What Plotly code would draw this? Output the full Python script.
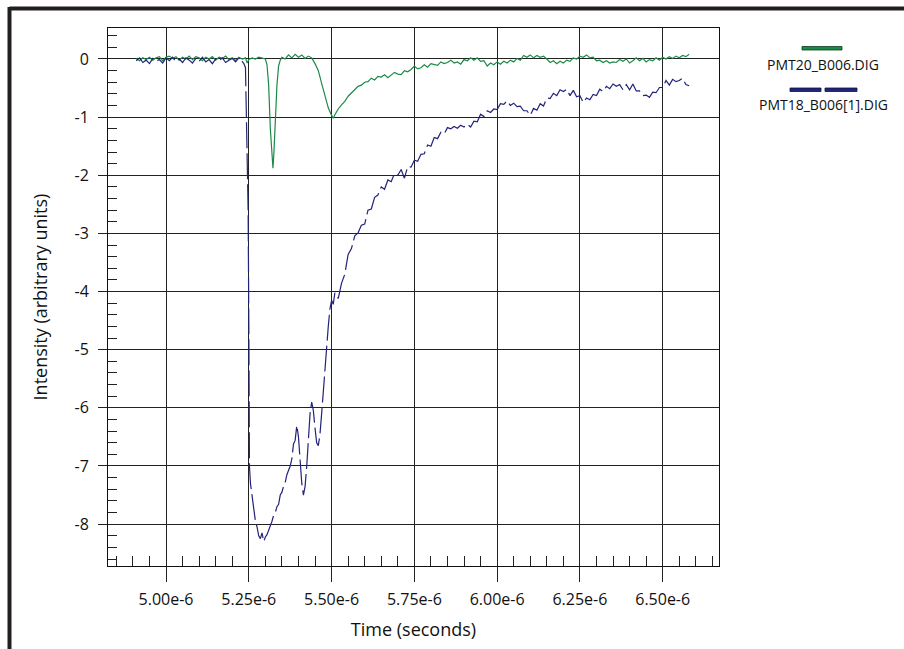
import plotly.graph_objects as go

# ---------------- data (time in microseconds) ----------------
pmt20_t = [4.91, 4.92, 4.93, 4.94, 4.95, 4.96, 4.97, 4.98, 4.99, 5.00,
           5.01, 5.02, 5.03, 5.04, 5.05, 5.06, 5.07, 5.08, 5.09, 5.10,
           5.11, 5.12, 5.13, 5.14, 5.15, 5.16, 5.17, 5.18, 5.19, 5.20,
           5.21, 5.22, 5.23, 5.24, 5.245, 5.25, 5.26, 5.27, 5.28, 5.29,
           5.30, 5.305, 5.31, 5.315, 5.32, 5.323, 5.326, 5.33, 5.335, 5.34,
           5.345, 5.35, 5.36, 5.37, 5.38, 5.39, 5.40, 5.41, 5.42, 5.43,
           5.44, 5.45, 5.46, 5.47, 5.48, 5.49, 5.50, 5.505, 5.51, 5.52,
           5.53, 5.54, 5.55, 5.56, 5.57, 5.58, 5.59, 5.60, 5.61, 5.62,
           5.63, 5.64, 5.65, 5.66, 5.67, 5.68, 5.69, 5.70, 5.71, 5.72,
           5.73, 5.74, 5.75, 5.76, 5.77, 5.78, 5.79, 5.80, 5.81, 5.82,
           5.83, 5.84, 5.85, 5.86, 5.87, 5.88, 5.89, 5.90, 5.91, 5.92,
           5.93, 5.94, 5.95, 5.96, 5.97, 5.98, 5.99, 6.00, 6.01, 6.02,
           6.03, 6.04, 6.05, 6.06, 6.07, 6.08, 6.09, 6.10, 6.11, 6.12,
           6.13, 6.14, 6.15, 6.16, 6.17, 6.18, 6.19, 6.20, 6.21, 6.22,
           6.23, 6.24, 6.25, 6.26, 6.27, 6.28, 6.29, 6.30, 6.31, 6.32,
           6.33, 6.34, 6.35, 6.36, 6.37, 6.38, 6.39, 6.40, 6.41, 6.42,
           6.43, 6.44, 6.45, 6.46, 6.47, 6.48, 6.49, 6.50, 6.51, 6.52,
           6.53, 6.54, 6.55, 6.56, 6.57, 6.58]
pmt20_v = [0.01, -0.03, 0.02, -0.01, 0.03, -0.02, 0.02, 0.04, -0.03, 0.03,
           0.05, 0.01, 0.04, -0.02, 0.03, 0.00, 0.05, -0.01, 0.04, 0.02,
           -0.03, 0.03, 0.00, 0.04, -0.02, 0.03, 0.01, 0.05, -0.01, 0.02,
           -0.03, 0.03, 0.00, 0.02, -0.07, -0.01, 0.02, 0.00, 0.03, 0.01,
           0.00, -0.10, -0.45, -1.20, -1.75, -1.88, -1.60, -0.95, -0.45, -0.12,
           -0.02, 0.03, 0.00, 0.07, 0.02, 0.08, 0.03, 0.07, 0.01, 0.05,
           0.02, -0.08, -0.20, -0.42, -0.65, -0.84, -0.97, -1.02, -0.96, -0.86,
           -0.79, -0.73, -0.64, -0.58, -0.53, -0.47, -0.45, -0.40, -0.39, -0.33,
           -0.36, -0.30, -0.31, -0.27, -0.32, -0.28, -0.23, -0.26, -0.27, -0.20,
           -0.22, -0.18, -0.12, -0.17, -0.15, -0.10, -0.14, -0.08, -0.10, -0.11,
           -0.05, -0.08, -0.06, -0.02, -0.07, -0.05, -0.09, -0.01, -0.03, 0.02,
           -0.02, 0.02, -0.04, -0.03, -0.12, -0.07, -0.10, -0.05, -0.09, -0.04,
           -0.07, -0.02, -0.05, 0.01, -0.02, 0.06, 0.03, 0.07, 0.02, 0.06,
           0.03, 0.05, 0.00, -0.06, -0.03, -0.08, -0.04, -0.07, -0.02, -0.04,
           0.02, 0.00, 0.05, 0.03, 0.07, 0.02, 0.03, -0.03, -0.02, -0.06,
           -0.03, -0.07, -0.05, -0.06, -0.01, -0.04, 0.00, -0.07, -0.03, 0.02,
           -0.03, 0.01, -0.05, -0.01, -0.03, 0.02, -0.02, 0.03, 0.00, 0.04,
           0.01, 0.05, 0.02, 0.06, 0.04, 0.08]

pmt18_t = [4.91, 4.92, 4.93, 4.94, 4.95, 4.96, 4.97, 4.98, 4.99, 5.00,
           5.01, 5.02, 5.03, 5.04, 5.05, 5.06, 5.07, 5.08, 5.09, 5.10,
           5.11, 5.12, 5.13, 5.14, 5.15, 5.16, 5.17, 5.18, 5.19, 5.20,
           5.21, 5.22, 5.23, 5.235, 5.24, 5.243, 5.245, 5.248, 5.250, 5.252,
           5.255, 5.26, 5.265, 5.27, 5.275, 5.28, 5.285, 5.29, 5.295, 5.30,
           5.305, 5.31, 5.315, 5.32, 5.325, 5.33, 5.335, 5.34, 5.345, 5.35,
           5.355, 5.36, 5.365, 5.37, 5.375, 5.38, 5.385, 5.39, 5.395, 5.40,
           5.405, 5.41, 5.415, 5.42, 5.425, 5.43, 5.435, 5.44, 5.445, 5.45,
           5.455, 5.46, 5.465, 5.47, 5.475, 5.48, 5.485, 5.49, 5.495, 5.50,
           5.505, 5.51, 5.52, 5.53, 5.54, 5.55, 5.56, 5.57, 5.58, 5.59,
           5.60, 5.61, 5.62, 5.63, 5.64, 5.65, 5.66, 5.67, 5.68, 5.69,
           5.70, 5.71, 5.72, 5.73, 5.74, 5.75, 5.76, 5.77, 5.78, 5.79,
           5.80, 5.81, 5.82, 5.83, 5.84, 5.85, 5.86, 5.87, 5.88, 5.89,
           5.90, 5.91, 5.92, 5.93, 5.94, 5.95, 5.96, 5.97, 5.98, 5.99,
           6.00, 6.01, 6.02, 6.03, 6.04, 6.05, 6.06, 6.07, 6.08, 6.09,
           6.10, 6.11, 6.12, 6.13, 6.14, 6.15, 6.16, 6.17, 6.18, 6.19,
           6.20, 6.21, 6.22, 6.23, 6.24, 6.25, 6.26, 6.27, 6.28, 6.29,
           6.30, 6.31, 6.32, 6.33, 6.34, 6.35, 6.36, 6.37, 6.38, 6.39,
           6.40, 6.41, 6.42, 6.43, 6.44, 6.45, 6.46, 6.47, 6.48, 6.49,
           6.50, 6.51, 6.52, 6.53, 6.54, 6.55, 6.56, 6.57, 6.58]
pmt18_v = [-0.03, 0.02, -0.06, -0.02, -0.08, 0.01, -0.04, -0.01, -0.07, 0.02,
           -0.03, 0.03, -0.05, 0.00, -0.06, 0.02, -0.02, -0.07, 0.01, -0.04,
           0.03, -0.05, -0.01, -0.08, 0.00, -0.03, 0.02, -0.06, -0.02, 0.01,
           -0.05, 0.02, -0.04, -0.08, -0.15, -0.90, -1.70, -2.60, -4.50, -7.00,
           -7.30, -7.50, -7.70, -7.95, -8.05, -8.20, -8.25, -8.15, -8.30, -8.22,
           -8.18, -8.10, -8.05, -7.95, -7.85, -7.80, -7.70, -7.66, -7.50, -7.45,
           -7.35, -7.28, -7.15, -7.08, -7.00, -6.88, -6.62, -6.56, -6.30, -6.50,
           -7.00, -7.30, -7.50, -7.35, -7.00, -6.60, -6.10, -5.90, -6.05, -6.35,
           -6.60, -6.65, -6.45, -6.10, -5.70, -5.35, -5.05, -4.60, -4.30, -4.15,
           -4.22, -4.02, -4.12, -3.86, -3.70, -3.36, -3.26, -3.04, -2.99, -2.86,
           -2.84, -2.60, -2.58, -2.38, -2.34, -2.20, -2.24, -2.08, -2.11, -1.97,
           -2.00, -1.90, -2.05, -1.85, -1.86, -1.74, -1.76, -1.64, -1.63, -1.48,
           -1.50, -1.35, -1.37, -1.26, -1.29, -1.18, -1.20, -1.16, -1.19, -1.14,
           -1.17, -1.12, -1.17, -1.07, -1.08, -0.95, -0.99, -0.89, -0.92, -0.86,
           -0.87, -0.77, -0.78, -0.72, -0.80, -0.76, -0.82, -0.81, -0.89, -0.89,
           -0.97, -0.85, -0.88, -0.77, -0.81, -0.67, -0.68, -0.59, -0.63, -0.53,
           -0.56, -0.52, -0.63, -0.54, -0.65, -0.63, -0.75, -0.67, -0.70, -0.61,
           -0.63, -0.52, -0.56, -0.47, -0.51, -0.43, -0.47, -0.44, -0.53, -0.44,
           -0.53, -0.43, -0.55, -0.55, -0.63, -0.62, -0.66, -0.57, -0.58, -0.49,
           -0.49, -0.37, -0.45, -0.35, -0.39, -0.37, -0.33, -0.44, -0.46]

series_names = ["PMT20_B006.DIG", "PMT18_B006[1].DIG"]
series_colors = ["#1b8a47", "#22237a"]

x_tick_vals = [5.00, 5.25, 5.50, 5.75, 6.00, 6.25, 6.50]
x_tick_text = ["5.00e-6", "5.25e-6", "5.50e-6", "5.75e-6", "6.00e-6", "6.25e-6", "6.50e-6"]
y_tick_vals = [0, -1, -2, -3, -4, -5, -6, -7, -8]
y_tick_text = ["0", "-1", "-2", "-3", "-4", "-5", "-6", "-7", "-8"]

x_title = "Time (seconds)"
y_title = "Intensity (arbitrary units)"

# ---------------- layout geometry ----------------
W, H = 904, 649
L, R, T, B = 108, 185, 28, 83
PW, PH = W - L - R, H - T - B
FONT = "Open Sans, Noto Sans, sans-serif"


def px(xp):
    return (xp - L) / PW


def py(yp):
    return 1 - (yp - T) / PH


fig = go.Figure()
fig.add_trace(go.Scatter(x=pmt20_t, y=pmt20_v, mode="lines", name=series_names[0],
                         line=dict(color=series_colors[0], width=1.2)))
fig.add_trace(go.Scatter(x=pmt18_t, y=pmt18_v, mode="lines", name=series_names[1],
                         line=dict(color=series_colors[1], width=1.2, dash="26px,5px")))

shapes = []
# outer frame (thick top and left rules)
shapes.append(dict(type="line", xref="paper", yref="paper", x0=px(9.5), x1=px(W + 5),
                   y0=py(8.5), y1=py(8.5), line=dict(color="#231f20", width=4)))
shapes.append(dict(type="line", xref="paper", yref="paper", x0=px(9.5), x1=px(9.5),
                   y0=py(7), y1=py(H + 5), line=dict(color="#231f20", width=4)))
# legend swatches
shapes.append(dict(type="rect", xref="paper", yref="paper", x0=px(802), x1=px(842),
                   y0=py(50), y1=py(46.5), fillcolor=series_colors[0],
                   line=dict(color="#0d3d20", width=0.8)))
shapes.append(dict(type="rect", xref="paper", yref="paper", x0=px(790), x1=px(821),
                   y0=py(91.5), y1=py(88), fillcolor=series_colors[1],
                   line=dict(color="#10113d", width=0.8)))
shapes.append(dict(type="rect", xref="paper", yref="paper", x0=px(825), x1=px(857),
                   y0=py(91.5), y1=py(88), fillcolor=series_colors[1],
                   line=dict(color="#10113d", width=0.8)))

annotations = [
    dict(text=series_names[0], xref="paper", yref="paper", x=px(823), y=py(65),
         xanchor="center", yanchor="middle", showarrow=False,
         font=dict(family=FONT, size=14, color="#111")),
    dict(text=series_names[1], xref="paper", yref="paper", x=px(823), y=py(105),
         xanchor="center", yanchor="middle", showarrow=False,
         font=dict(family=FONT, size=14, color="#111")),
]

fig.update_layout(
    width=W, height=H,
    margin=dict(l=L, r=R, t=T, b=B, pad=0),
    paper_bgcolor="white", plot_bgcolor="white",
    showlegend=False,
    font=dict(family=FONT, size=16, color="#111"),
    shapes=shapes, annotations=annotations,
)

fig.update_xaxes(
    range=[4.8248, 6.670], tickmode="array", tickvals=x_tick_vals, ticktext=x_tick_text,
    ticks="outside", ticklen=15, tickwidth=1, tickcolor="#222",
    ticklabelstandoff=4,
    showgrid=True, gridcolor="#222", gridwidth=1,
    showline=True, linecolor="#111", linewidth=1, mirror=True,
    zeroline=False,
    minor=dict(tickmode="linear", tick0=5.0, dtick=0.05, ticks="inside", ticklen=10,
               tickcolor="#222", tickwidth=1, showgrid=False),
    title=dict(text=x_title, font=dict(family=FONT, size=18, color="#111"), standoff=14),
    tickfont=dict(family=FONT, size=16, color="#111"),
)
fig.update_yaxes(
    range=[-8.72, 0.533], tickmode="array", tickvals=y_tick_vals, ticktext=y_tick_text,
    ticks="outside", ticklen=9, tickwidth=1, tickcolor="#222",
    ticklabelstandoff=6,
    showgrid=True, gridcolor="#222", gridwidth=1,
    showline=True, linecolor="#111", linewidth=1, mirror=True,
    zeroline=False,
    minor=dict(tickmode="linear", tick0=0, dtick=0.2, ticks="inside", ticklen=9,
               tickcolor="#222", tickwidth=1, showgrid=False),
    title=dict(text=y_title, font=dict(family=FONT, size=18, color="#111"), standoff=22),
    tickfont=dict(family=FONT, size=16, color="#111"),
)

fig.write_html("out.html")
